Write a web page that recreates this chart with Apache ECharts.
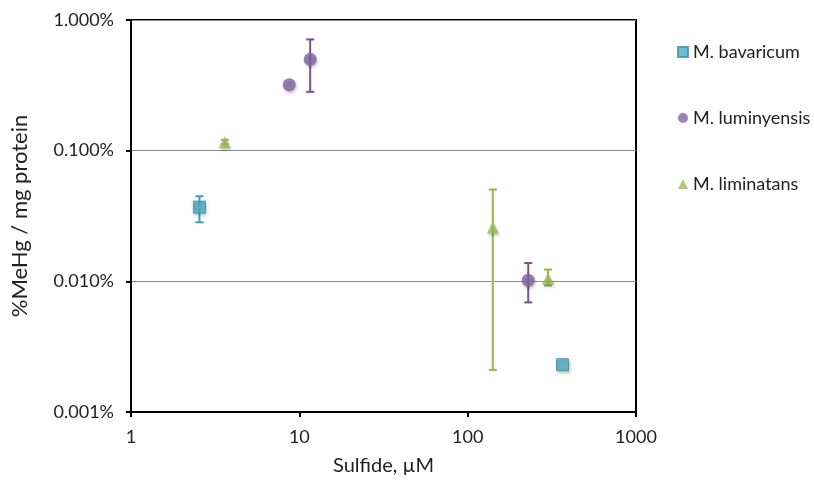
<!DOCTYPE html>
<html>
<head>
<meta charset="utf-8">
<script src="https://cdn.jsdelivr.net/npm/echarts@6/dist/echarts.min.js"></script>
<style>
  html, body { margin: 0; padding: 0; background: #fff; }
  #main { width: 814px; height: 480px; }
</style>
</head>
<body>
<div id="main"></div>
<script>
// 数据 (Sulfide uM vs %MeHg / mg protein)
var seriesNames = ['M. bavaricum', 'M. luminyensis', 'M. liminatans']
var seriesColors = ['#4bacc6', '#8064a2', '#9bbb59']
var barColors = ['#31a3c4', '#7250a0', '#8dbd3f']
var seriesSymbols = ['rect', 'circle', 'triangle']

var bavX = [2.55, 366]
var bavY = [0.037, 0.0023]
var bavLow = [0.0283, null]
var bavHigh = [0.0448, null]

var lumX = [8.7, 11.6, 229]
var lumY = [0.32, 0.5, 0.0102]
var lumLow = [null, 0.282, 0.0069]
var lumHigh = [null, 0.71, 0.0138]

var limX = [3.6, 141, 300]
var limY = [0.116, 0.0258, 0.0105]
var limLow = [0.112, 0.0021, 0.0093]
var limHigh = [0.121, 0.0504, 0.0123]

var xTicks = [1, 10, 100, 1000]
var yTicks = [0.001, 0.01, 0.1, 1]

var groups = [
  { x: bavX, y: bavY, low: bavLow, high: bavHigh },
  { x: lumX, y: lumY, low: lumLow, high: lumHigh },
  { x: limX, y: limY, low: limLow, high: limHigh },
]

var fontName = 'Lato'

function errorBarItem(params, api) {
  var top = api.coord([api.value(0), api.value(2)])
  var bottom = api.coord([api.value(0), api.value(1)])
  var half = 4
  var style = { stroke: api.visual('color'), lineWidth: 2 }
  return {
    type: 'group',
    children: [
      { type: 'line', shape: { x1: top[0], y1: top[1], x2: bottom[0], y2: bottom[1] }, style: style },
      { type: 'line', shape: { x1: top[0] - half, y1: top[1], x2: top[0] + half, y2: top[1] }, style: style },
      { type: 'line', shape: { x1: bottom[0] - half, y1: bottom[1], x2: bottom[0] + half, y2: bottom[1] }, style: style },
    ],
  }
}

var series = []
groups.forEach(function (g, k) {
  var bars = []
  var pts = []
  for (var i = 0; i < g.x.length; i++) {
    pts.push([g.x[i], g.y[i]])
    if (g.low[i] != null) bars.push([g.x[i], g.low[i], g.high[i]])
  }
  series.push({
    name: seriesNames[k] + ' err',
    type: 'custom',
    renderItem: errorBarItem,
    itemStyle: { color: barColors[k] },
    encode: { x: 0, y: [1, 2] },
    data: bars,
    z: 2,
    silent: true,
  })
  series.push({
    name: seriesNames[k],
    type: 'scatter',
    symbol: seriesSymbols[k],
    symbolSize: k == 0 ? 12 : k == 1 ? 13 : 12,
    itemStyle: {
      color: seriesColors[k],
      borderColor: k == 0 ? '#3a8fa8' : seriesColors[k],
      borderWidth: k == 0 ? 1 : 0,
      shadowBlur: 3,
      shadowColor: 'rgba(0,0,0,0.3)',
      shadowOffsetX: 1,
      shadowOffsetY: 2,
    },
    data: pts,
    z: 3,
  })
})

var chart = echarts.init(document.getElementById('main'))
var option = {
  backgroundColor: '#fff',
  animation: false,
  textStyle: { fontFamily: fontName },
  grid: {
    left: 131,
    right: 178,
    top: 20,
    bottom: 68,
    outerBoundsMode: 'none',
    containLabel: false,
    show: true,
    borderColor: '#000',
    borderWidth: 2,
  },
  legend: {
    orient: 'vertical',
    left: 677,
    top: 43,
    padding: 0,
    itemGap: 48,
    itemWidth: 10,
    itemHeight: 10,
    data: seriesNames.map(function (n, k) {
      return { name: n, icon: seriesSymbols[k] }
    }),
    textStyle: { fontSize: 18, color: '#222', fontFamily: fontName },
  },
  xAxis: {
    type: 'log',
    logBase: 10,
    min: xTicks[0],
    max: xTicks[xTicks.length - 1],
    name: 'Sulfide, µM',
    nameLocation: 'middle',
    nameGap: 44,
    nameTextStyle: { fontSize: 20, color: '#222' },
    axisLine: { lineStyle: { color: '#000', width: 2 } },
    axisTick: { show: true, inside: false, length: 5, lineStyle: { color: '#000', width: 2 } },
    axisLabel: {
      fontSize: 18,
      color: '#222',
      margin: 16,
      formatter: function (v) {
        return String(v)
      },
    },
    splitLine: { show: false },
    minorTick: { show: false },
  },
  yAxis: {
    type: 'log',
    logBase: 10,
    min: yTicks[0],
    max: yTicks[yTicks.length - 1],
    name: '%MeHg / mg protein',
    nameLocation: 'middle',
    nameGap: 100,
    nameTextStyle: { fontSize: 22, color: '#222' },
    axisLine: { lineStyle: { color: '#000', width: 2 } },
    axisTick: { show: true, inside: false, length: 5, lineStyle: { color: '#000', width: 2 } },
    axisLabel: {
      fontSize: 18,
      color: '#222',
      margin: 17,
      formatter: function (v) {
        return v.toFixed(3) + '%'
      },
    },
    splitLine: { show: true, lineStyle: { color: '#8c8c8c', width: 1 } },
  },
  series: series,
}
chart.setOption(option)
</script>
</body>
</html>
